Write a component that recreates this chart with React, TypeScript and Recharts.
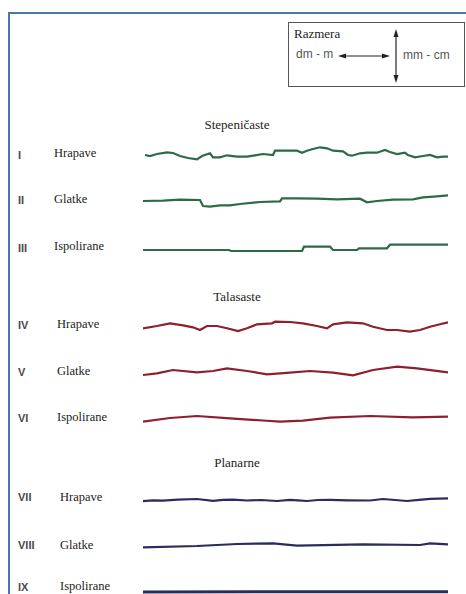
import React from 'react';
import { LineChart, Line, XAxis, YAxis } from 'recharts';

// profile heights (px up from the row baseline) along the profile length
const profileI = [
  { pos: 2, h: 0 }, { pos: 7, h: -1 }, { pos: 14, h: 1 }, { pos: 24, h: 2.7 }, { pos: 30, h: 2 },
  { pos: 37, h: -1 }, { pos: 45, h: -3 }, { pos: 54, h: -4.3 }, { pos: 59, h: -1 }, { pos: 67, h: 1.7 },
  { pos: 70, h: -2.3 }, { pos: 77, h: -2.3 }, { pos: 84, h: -0.3 }, { pos: 94, h: -1.7 }, { pos: 104, h: -1.7 },
  { pos: 112, h: -0.3 }, { pos: 120, h: 1 }, { pos: 130, h: 0 }, { pos: 132, h: 4.3 }, { pos: 144, h: 4.3 },
  { pos: 154, h: 4.3 }, { pos: 159, h: 2.3 }, { pos: 164, h: 4.3 }, { pos: 169, h: 5.7 }, { pos: 177, h: 7.7 },
  { pos: 184, h: 6.7 }, { pos: 190, h: 4.3 }, { pos: 200, h: 3.7 }, { pos: 205, h: 0 }, { pos: 209, h: -0.7 },
  { pos: 217, h: 1.7 }, { pos: 224, h: 2.3 }, { pos: 234, h: 2.3 }, { pos: 242, h: 5 }, { pos: 247, h: 3 },
  { pos: 254, h: 1 }, { pos: 262, h: 2.3 }, { pos: 265, h: 0 }, { pos: 272, h: -2.3 }, { pos: 280, h: -1 },
  { pos: 287, h: 0 }, { pos: 294, h: -2.3 }, { pos: 300, h: -1.7 }, { pos: 305, h: -1.7 },
];
const profileII = [
  { pos: 0, h: 0 }, { pos: 20, h: 0.3 }, { pos: 37, h: 1.3 }, { pos: 57, h: 1 }, { pos: 60, h: -5 },
  { pos: 67, h: -5.7 }, { pos: 77, h: -4.3 }, { pos: 87, h: -4.3 }, { pos: 97, h: -3 }, { pos: 117, h: -1 },
  { pos: 137, h: -0.3 }, { pos: 139, h: 2.7 }, { pos: 154, h: 2.7 }, { pos: 174, h: 2.3 }, { pos: 194, h: 1.7 },
  { pos: 217, h: 2.3 }, { pos: 224, h: -1.3 }, { pos: 234, h: 0 }, { pos: 250, h: 1.3 }, { pos: 270, h: 1.7 },
  { pos: 280, h: 3.7 }, { pos: 294, h: 4.7 }, { pos: 305, h: 5.7 },
];
const profileIII = [
  { pos: 0, h: 0 }, { pos: 86, h: 0 }, { pos: 88, h: -1 }, { pos: 159, h: -1 }, { pos: 161, h: 3.3 },
  { pos: 187, h: 3.3 }, { pos: 190, h: 0 }, { pos: 214, h: 0 }, { pos: 216, h: 1.7 }, { pos: 244, h: 1.7 },
  { pos: 247, h: 5.3 }, { pos: 305, h: 5.3 },
];
const profileIV = [
  { pos: 0, h: -2.3 }, { pos: 14, h: 0 }, { pos: 27, h: 2.7 }, { pos: 40, h: 0.7 }, { pos: 50, h: -1.3 },
  { pos: 57, h: -4 }, { pos: 64, h: 0 }, { pos: 74, h: 0 }, { pos: 84, h: -2.3 }, { pos: 95, h: -5 },
  { pos: 104, h: -2.3 }, { pos: 114, h: 1.7 }, { pos: 129, h: 2.7 }, { pos: 132, h: 4.3 }, { pos: 147, h: 4 },
  { pos: 160, h: 2.7 }, { pos: 174, h: 0 }, { pos: 184, h: -2.3 }, { pos: 190, h: 1.7 }, { pos: 204, h: 3.7 },
  { pos: 220, h: 2.7 }, { pos: 230, h: -0.7 }, { pos: 244, h: -4 }, { pos: 254, h: -4 }, { pos: 267, h: -5.7 },
  { pos: 277, h: -4 }, { pos: 287, h: -0.7 }, { pos: 297, h: 1.7 }, { pos: 305, h: 3.7 },
];
const profileV = [
  { pos: 0, h: -3 }, { pos: 14, h: -1.3 }, { pos: 30, h: 2 }, { pos: 54, h: -0.3 }, { pos: 70, h: 1 },
  { pos: 84, h: 3.7 }, { pos: 104, h: 1 }, { pos: 124, h: -2.3 }, { pos: 147, h: -0.7 }, { pos: 167, h: 1 },
  { pos: 190, h: -0.7 }, { pos: 210, h: -3.3 }, { pos: 230, h: 2 }, { pos: 254, h: 5.3 }, { pos: 274, h: 3.7 },
  { pos: 305, h: -0.3 },
];
const profileVI = [
  { pos: 0, h: -2.7 }, { pos: 27, h: 1 }, { pos: 54, h: 3 }, { pos: 87, h: 0.7 }, { pos: 120, h: -1.5 },
  { pos: 137, h: -2.7 }, { pos: 160, h: -1.7 }, { pos: 187, h: 1.3 }, { pos: 227, h: 3 }, { pos: 270, h: 1.7 },
  { pos: 305, h: 2.3 },
];
const profileVII = [
  { pos: 0, h: -1.2 }, { pos: 10, h: -0.3 }, { pos: 20, h: -0.6 }, { pos: 35, h: 0.4 }, { pos: 54, h: 1 },
  { pos: 70, h: -0.9 }, { pos: 80, h: 0.2 }, { pos: 90, h: 0.3 }, { pos: 104, h: -0.5 }, { pos: 118, h: 0 },
  { pos: 134, h: -1 }, { pos: 147, h: 0.2 }, { pos: 155, h: -0.4 }, { pos: 164, h: -1 }, { pos: 175, h: 0 },
  { pos: 187, h: 0.2 }, { pos: 205, h: -0.3 }, { pos: 227, h: -0.5 }, { pos: 240, h: 1 }, { pos: 252, h: 0 },
  { pos: 264, h: -1 }, { pos: 276, h: 0.2 }, { pos: 287, h: 1.2 }, { pos: 305, h: 1.6 },
];
const profileVIII = [
  { pos: 0, h: -2.3 }, { pos: 54, h: -1 }, { pos: 94, h: 1 }, { pos: 130, h: 1.7 }, { pos: 154, h: -0.7 },
  { pos: 220, h: 0.7 }, { pos: 277, h: 0 }, { pos: 287, h: 1.7 }, { pos: 305, h: 0.7 },
];
const profileIX = [
  { pos: 0, h: 0 }, { pos: 150, h: 0.2 }, { pos: 305, h: 0.3 },
];

const numerals = ['I', 'II', 'III', 'IV', 'V', 'VI', 'VII', 'VIII', 'IX'];
const surfaceNames = ['Hrapave', 'Glatke', 'Ispolirane'];
const groupTitles = ['Stepeničaste', 'Talasaste', 'Planarne'];
const groupColors = ['#2d6a45', '#8e1f2e', '#2a2c5c'];

const profiles = [profileI, profileII, profileIII, profileIV, profileV, profileVI, profileVII, profileVIII, profileIX];

// layout
const rowBase = [155, 201, 250, 326, 372, 419, 499.5, 545, 592];
const numeralY = [155, 200, 248, 325, 372, 418, 497, 545, 587];
const nameY = [153, 199, 246, 324, 371, 417, 497, 545, 586];
const nameX = [54, 57, 60];
const titleY = [125, 297, 463];
const titleX = [237, 237, 237];

const serif = '"Times New Roman", "Liberation Serif", "DejaVu Serif", serif';
const sans = 'Arial, "Liberation Sans", sans-serif';

const Profile: React.FC<{ data: { pos: number; h: number }[]; color: string; top: number; width: number }> = ({ data, color, top, width }) => (
  <div style={{ position: 'absolute', left: 143, top: top - 12 }}>
    <LineChart width={305} height={24} data={data} margin={{ top: 0, right: 0, bottom: 0, left: 0 }}>
      <XAxis dataKey="pos" type="number" domain={[0, 305]} hide />
      <YAxis type="number" domain={[-12, 12]} hide />
      <Line dataKey="h" type="linear" stroke={color} strokeWidth={width} dot={false} isAnimationActive={false} />
    </LineChart>
  </div>
);

const App: React.FC = () => {
  return (
    <div style={{ position: 'absolute', left: 0, top: 0, width: 466, height: 594, overflow: 'hidden', background: '#fff' }}>
      <div style={{ position: 'absolute', left: 8, top: 12, width: 480, height: 620, borderLeft: '2px solid #4a76a8', borderTop: '2px solid #4a76a8' }} />

      {/* scale legend */}
      <div style={{ position: 'absolute', left: 288, top: 22, width: 175, height: 63, border: '1.5px solid #555' }} />
      <div style={{ position: 'absolute', left: 294, top: 26, fontFamily: serif, fontSize: 13, color: '#222' }}>Razmera</div>
      <div style={{ position: 'absolute', left: 296, top: 47, fontFamily: sans, fontSize: 12, color: '#555' }}>dm - m</div>
      <div style={{ position: 'absolute', left: 403, top: 48, fontFamily: sans, fontSize: 12, color: '#555' }}>mm - cm</div>
      <svg style={{ position: 'absolute', left: 0, top: 0 }} width={466} height={100}>
        <line x1={344} y1={56} x2={384} y2={56} stroke="#222" strokeWidth={1} />
        <polygon points="338,56 346,53.5 346,58.5" fill="#222" />
        <polygon points="390,56 382,53.5 382,58.5" fill="#222" />
        <line x1={396} y1={35} x2={396} y2={77} stroke="#222" strokeWidth={1.2} />
        <polygon points="396,29 393.5,37 398.5,37" fill="#222" />
        <polygon points="396,83 393.5,75 398.5,75" fill="#222" />
      </svg>

      {groupTitles.map((t, g) => (
        <div key={t} style={{ position: 'absolute', left: titleX[g] - 60, width: 120, top: titleY[g] - 8, textAlign: 'center', fontFamily: serif, fontSize: 13, color: '#222', lineHeight: '16px' }}>{t}</div>
      ))}

      {numerals.map((n, i) => (
        <div key={n} style={{ position: 'absolute', left: 18, top: numeralY[i] - 7, fontFamily: sans, fontWeight: 'bold', fontSize: 11, color: '#4a4a4a', lineHeight: '14px' }}>{n}</div>
      ))}
      {numerals.map((n, i) => (
        <div key={'n' + n} style={{ position: 'absolute', left: nameX[Math.floor(i / 3)], top: nameY[i] - 8, fontFamily: serif, fontSize: 12.5, color: '#222', lineHeight: '16px' }}>{surfaceNames[i % 3]}</div>
      ))}

      {profiles.map((p, i) => (
        <Profile key={i} data={p} color={groupColors[Math.floor(i / 3)]} top={rowBase[i]} width={i === 8 ? 3 : 2.2} />
      ))}
    </div>
  );
};

export default App;
